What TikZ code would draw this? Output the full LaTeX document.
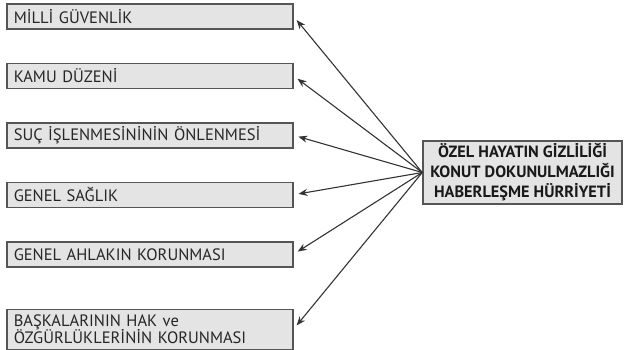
\documentclass[tikz,border=0pt]{standalone}
\usepackage{fontspec}
\setmainfont{PT Sans}
\usetikzlibrary{arrows.meta,positioning}
\definecolor{BoxGray}{RGB}{228,228,228}
\definecolor{EdgeGray}{RGB}{85,85,85}
\tikzset{
  reasonbox/.style={draw=EdgeGray, line width=1.5pt, fill=BoxGray, align=left,
    text width=272pt, inner xsep=7pt, inner ysep=2pt, minimum height=25pt,
    font=\fontsize{16.5}{17.5}\selectfont, text=black!85},
  rightsbox/.style={draw=EdgeGray, line width=1.5pt, fill=BoxGray, align=center,
    minimum width=199pt, minimum height=63pt, inner sep=1pt,
    font=\bfseries\fontsize{16.3}{20}\selectfont, text=black!90},
  limitarrow/.style={-{Stealth[length=9pt,width=7pt]}, line width=1.1pt,
    draw=black!80, shorten >=5pt}
}

\begin{document}
\begin{tikzpicture}[x=1pt,y=-1pt, node distance=33pt]
  \useasboundingbox (0,0) rectangle (628,349);
  \node[reasonbox, anchor=north west] (milli) at (6,3) {MİLLİ GÜVENLİK};
  \node[reasonbox, below=of milli] (kamu) {KAMU DÜZENİ};
  \node[reasonbox, below=of kamu] (suc) {SUÇ İŞLENMESİNİNİN ÖNLENMESİ};
  \node[reasonbox, below=of suc] (saglik) {GENEL SAĞLIK};
  \node[reasonbox, below=of saglik] (ahlak) {GENEL AHLAKIN KORUNMASI};
  \node[reasonbox, below=41pt of ahlak, minimum height=40pt] (hak)
    {BAŞKALARININ HAK ve\\ÖZGÜRLÜKLERİNİN KORUNMASI};
  \node[rightsbox] (ozel) at (522.5,172.5)
    {ÖZEL HAYATIN GİZLİLİĞİ\\KONUT DOKUNULMAZLIĞI\\HABERLEŞME HÜRRİYETİ};
  \foreach \n in {milli,kamu,suc,saglik,ahlak,hak}
    \draw[limitarrow] (ozel.west) -- (\n.east);
\end{tikzpicture}
\end{document}
